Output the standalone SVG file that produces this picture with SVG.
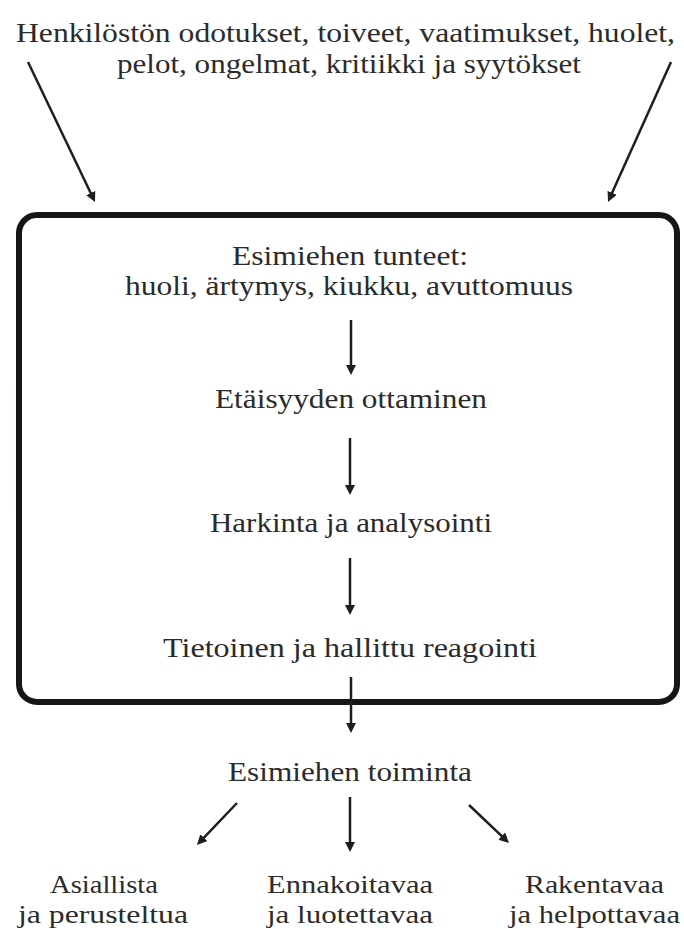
<svg xmlns="http://www.w3.org/2000/svg" width="684" height="929" viewBox="0 0 684 929">
<style>
.t{font-family:"Liberation Serif","Times New Roman",serif;font-size:28px;fill:#2b2b2b}
.s{font-size:26px}
.c{stroke:#1e1e1e;stroke-width:2.5;fill:none;marker-end:url(#ah)}
.box{fill:none;stroke:#161616;stroke-width:6}
</style>
<defs>
<marker id="ah" markerUnits="userSpaceOnUse" markerWidth="10" markerHeight="10" refX="3" refY="5" orient="auto">
<path d="M0,0 L10,5 L0,10 z" fill="#1e1e1e"/>
</marker>
</defs>
<rect width="684" height="929" fill="#ffffff"/>
<g id="source">
<text class="t" x="16" y="42" textLength="659" lengthAdjust="spacingAndGlyphs">Henkilöstön odotukset, toiveet, vaatimukset, huolet,</text>
<text class="t" x="117" y="73" textLength="464" lengthAdjust="spacingAndGlyphs">pelot, ongelmat, kritiikki ja syytökset</text>
</g>
<g id="frame">
<rect class="box" x="19" y="215" width="658" height="487" rx="18" ry="18"/>
</g>
<g id="feelings">
<text class="t" x="232" y="265" textLength="236" lengthAdjust="spacingAndGlyphs">Esimiehen tunteet:</text>
<text class="t" x="125" y="295" textLength="448" lengthAdjust="spacingAndGlyphs">huoli, ärtymys, kiukku, avuttomuus</text>
</g>
<g id="distance">
<text class="t" x="215" y="408" textLength="272" lengthAdjust="spacingAndGlyphs">Etäisyyden ottaminen</text>
</g>
<g id="analysis">
<text class="t" x="210" y="532" textLength="282" lengthAdjust="spacingAndGlyphs">Harkinta ja analysointi</text>
</g>
<g id="reaction">
<text class="t" x="163" y="657" textLength="374" lengthAdjust="spacingAndGlyphs">Tietoinen ja hallittu reagointi</text>
</g>
<g id="action">
<text class="t" x="228" y="781" textLength="244" lengthAdjust="spacingAndGlyphs">Esimiehen toiminta</text>
</g>
<g id="out-left">
<text class="t s" x="50" y="893" textLength="108" lengthAdjust="spacingAndGlyphs">Asiallista</text>
<text class="t s" x="18" y="923" textLength="170" lengthAdjust="spacingAndGlyphs">ja perusteltua</text>
</g>
<g id="out-center">
<text class="t s" x="267" y="893" textLength="166" lengthAdjust="spacingAndGlyphs">Ennakoitavaa</text>
<text class="t s" x="267" y="923" textLength="166" lengthAdjust="spacingAndGlyphs">ja luotettavaa</text>
</g>
<g id="out-right">
<text class="t s" x="525" y="893" textLength="139" lengthAdjust="spacingAndGlyphs">Rakentavaa</text>
<text class="t s" x="509" y="923" textLength="171" lengthAdjust="spacingAndGlyphs">ja helpottavaa</text>
</g>
<g id="connectors">
<line class="c" x1="28" y1="62" x2="92" y2="195.7"/>
<line class="c" x1="671" y1="62" x2="610.9" y2="195.6"/>
<line class="c" x1="351" y1="320" x2="351" y2="368"/>
<line class="c" x1="350" y1="438" x2="350" y2="488"/>
<line class="c" x1="350" y1="558" x2="350" y2="608"/>
<line class="c" x1="351" y1="677" x2="351" y2="726"/>
<line class="c" x1="237" y1="803" x2="201.8" y2="839.9"/>
<line class="c" x1="350" y1="797" x2="350" y2="845"/>
<line class="c" x1="469" y1="805" x2="503.9" y2="838.2"/>
</g>
</svg>
